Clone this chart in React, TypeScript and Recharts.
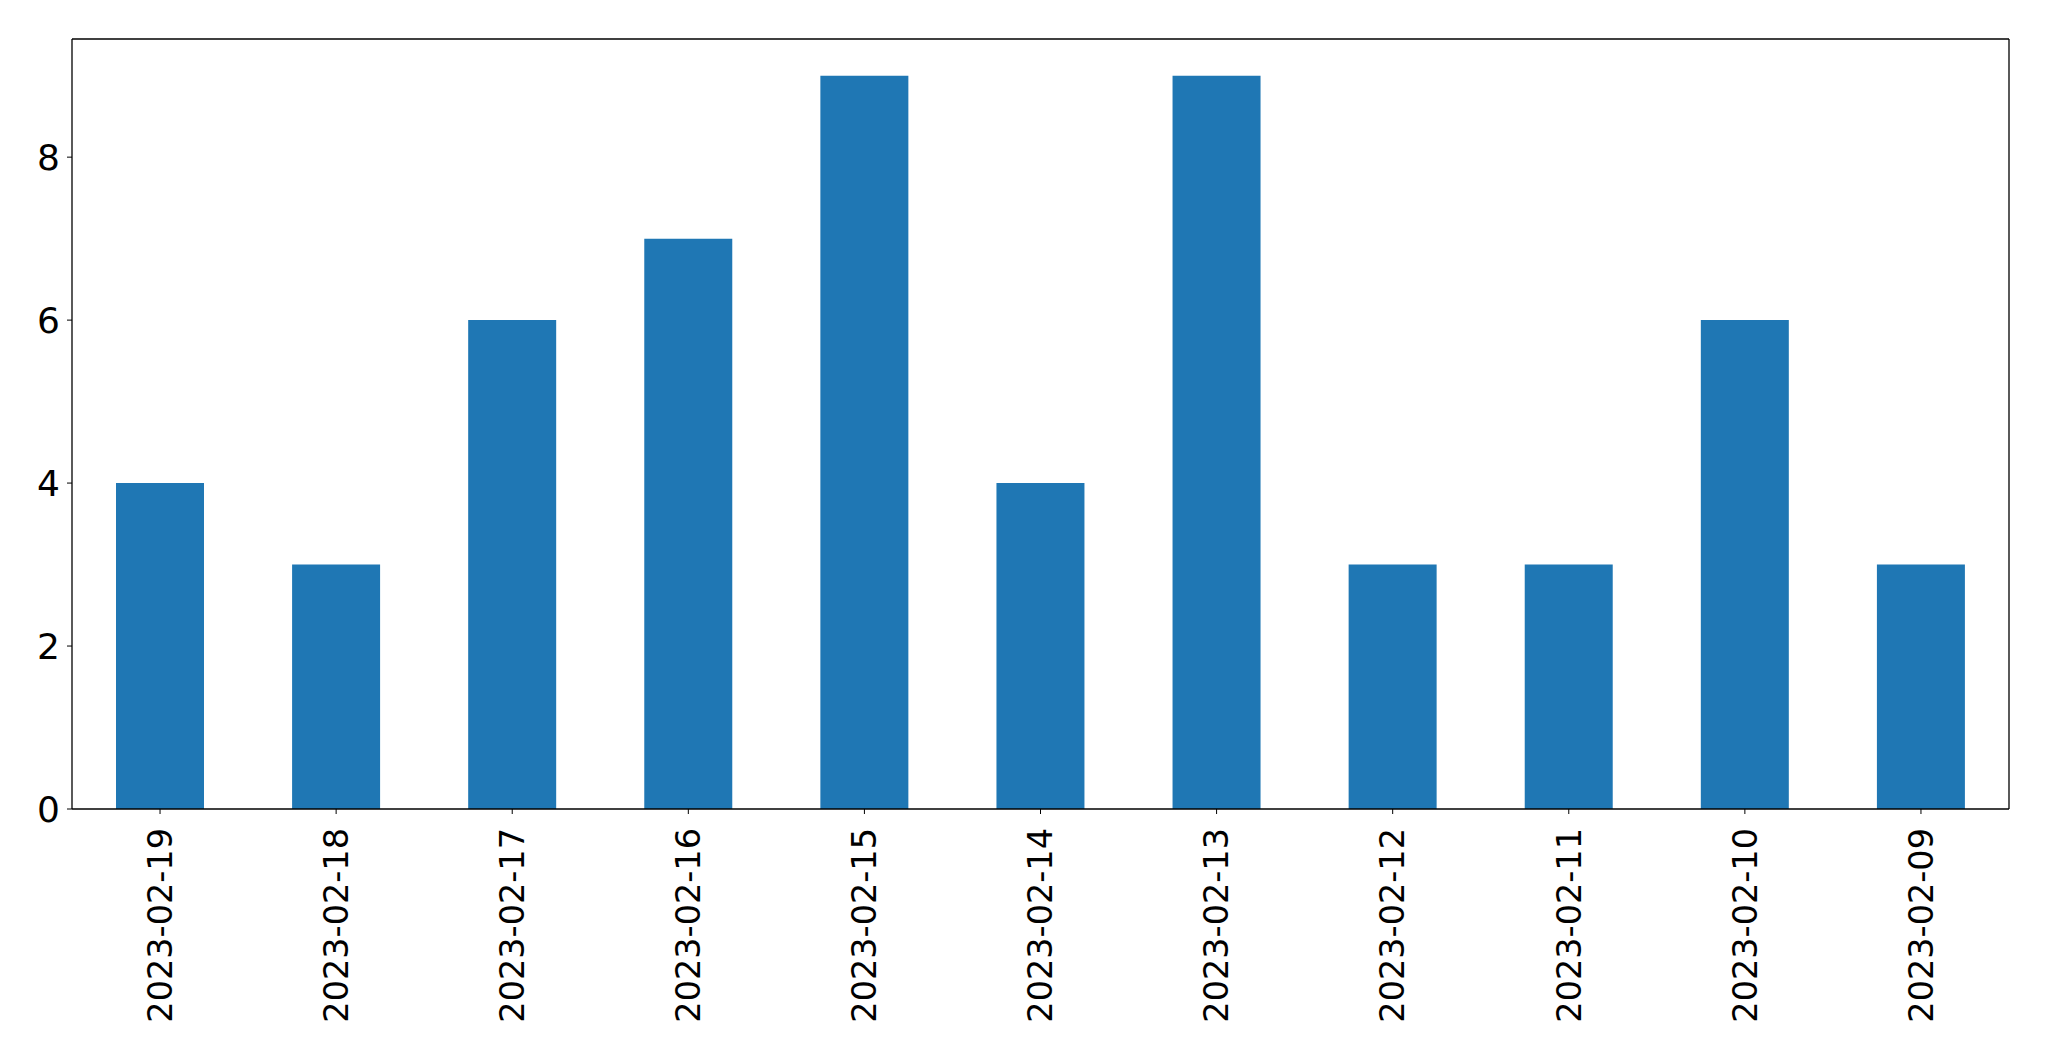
import { BarChart, Bar, XAxis, YAxis } from 'recharts';

const dates = [
  '2023-02-19', '2023-02-18', '2023-02-17', '2023-02-16', '2023-02-15', '2023-02-14',
  '2023-02-13', '2023-02-12', '2023-02-11', '2023-02-10', '2023-02-09',
];
const counts = [4, 3, 6, 7, 9, 4, 9, 3, 3, 6, 3];
const yTicks = [0, 2, 4, 6, 8];

const data = dates.map((date, i) => ({ date, count: counts[i] }));

const FONT = 'DejaVu Sans, sans-serif';

const DateTick = ({ x, y, payload }: any) => (
  <text
    x={0}
    y={0}
    transform={`translate(${x},${y + 12}) rotate(-90)`}
    textAnchor="end"
    dy="0.35em"
    fontSize={33.5}
    fontFamily={FONT}
    fill="#000"
  >
    {payload.value}
  </text>
);

const App = () => (
  <div style={{ position: 'absolute', left: 0, top: 0, width: 2049, height: 1061, background: '#fff' }}>
    <BarChart
      width={2049}
      height={1061}
      data={data}
      margin={{ top: 38, right: 39, left: 0, bottom: 0 }}
      barSize={88}
    >
      <XAxis
        dataKey="date"
        height={252}
        interval={0}
        tick={<DateTick />}
        tickSize={5}
        tickLine={{ stroke: '#000' }}
        axisLine={{ stroke: '#000', strokeWidth: 1.3 }}
      />
      <XAxis
        xAxisId="top"
        dataKey="date"
        orientation="top"
        height={1}
        tick={false}
        tickLine={false}
        axisLine={{ stroke: '#000', strokeWidth: 1.3 }}
      />
      <YAxis
        domain={[0, 9.45]}
        ticks={yTicks}
        width={72}
        tickSize={5}
        tickMargin={7}
        tickLine={{ stroke: '#000' }}
        axisLine={{ stroke: '#000', strokeWidth: 1.3 }}
        tick={{ fontSize: 36, fontFamily: FONT, fill: '#000' }}
      />
      <YAxis
        yAxisId="right"
        orientation="right"
        domain={[0, 9.45]}
        width={1}
        tick={false}
        tickLine={false}
        axisLine={{ stroke: '#000', strokeWidth: 1.3 }}
      />
      <Bar dataKey="count" fill="#1f77b4" isAnimationActive={false} />
    </BarChart>
  </div>
);

export default App;
